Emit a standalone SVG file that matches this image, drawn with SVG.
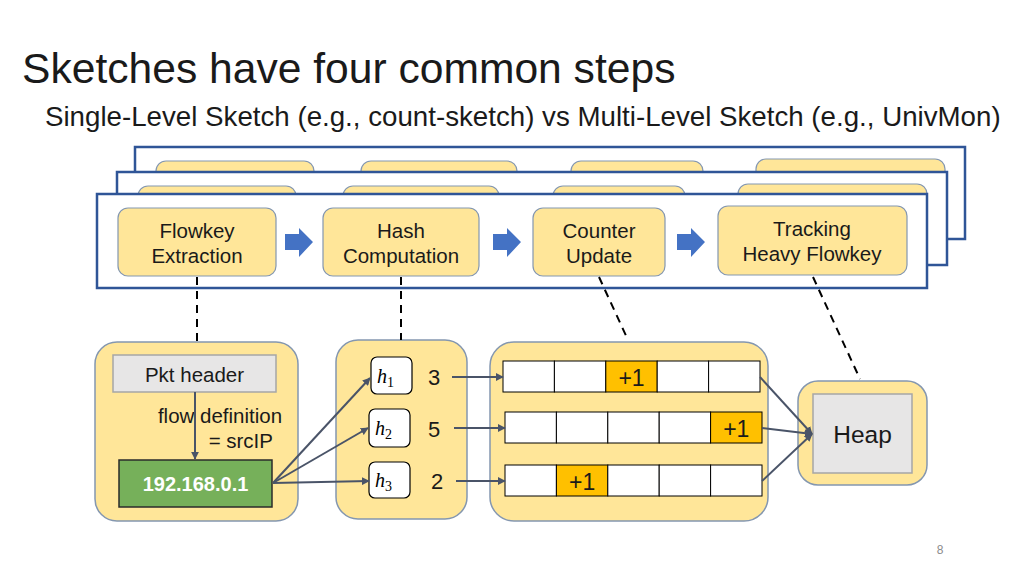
<svg xmlns="http://www.w3.org/2000/svg" width="1024" height="576" viewBox="0 0 1024 576">
<style>
.panel{fill:#ffffff;stroke:#2f5597;stroke-width:2.5}
.step{fill:#ffe699;stroke:#8497b0;stroke-width:1.2}
.cont{fill:#ffe699;stroke:#8497b0;stroke-width:1.5}
.t{font-family:"Liberation Sans",Arial,sans-serif;fill:#1a1a1a}
.gray{fill:#e7e6e6;stroke:#a6a6a6;stroke-width:1.5}
.cell{fill:#ffffff;stroke:#000000;stroke-width:1}
.hi{fill:#ffc000;stroke:#000000;stroke-width:1}
.hb{fill:#ffffff;stroke:#000000;stroke-width:1.2}
.dash{stroke:#000000;stroke-width:2;stroke-dasharray:8 6;fill:none}
.conn{stroke:#4a5468;stroke-width:2;fill:none}
.barrow{fill:#4472c4}
.math{font-family:"Liberation Serif","DejaVu Serif",serif;font-style:italic;fill:#000}
</style>
<defs>
<marker id="ah" viewBox="0 0 10 10" refX="9" refY="5" markerWidth="4" markerHeight="4" orient="auto" markerUnits="strokeWidth">
<path d="M0,0 L10,5 L0,10 z" fill="#4a5468"/>
</marker>
</defs>

<text class="t" x="22" y="83" font-size="42.6">Sketches have four common steps</text>
<text class="t" x="45" y="126" font-size="27.7">Single-Level Sketch (e.g., count-sketch) vs Multi-Level Sketch (e.g., UnivMon)</text>

<g id="panel-back" transform="translate(38,-47)">
<rect class="panel" x="97" y="194" width="830" height="92"/>
<rect class="step" x="118" y="208" width="158" height="68" rx="10"/>
<rect class="step" x="323" y="208" width="156" height="68" rx="10"/>
<rect class="step" x="533" y="208" width="132" height="68" rx="10"/>
<rect class="step" x="718" y="206" width="189" height="69" rx="10"/>
</g>
<g id="panel-middle" transform="translate(20,-22)">
<rect class="panel" x="97" y="194" width="830" height="93"/>
<rect class="step" x="118" y="208" width="158" height="68" rx="10"/>
<rect class="step" x="323" y="208" width="156" height="68" rx="10"/>
<rect class="step" x="533" y="208" width="132" height="68" rx="10"/>
<rect class="step" x="718" y="206" width="189" height="69" rx="10"/>
</g>
<g id="panel-front">
<rect class="panel" x="97" y="194" width="830" height="94"/>
</g>

<g id="step-flowkey">
<rect class="step" x="118" y="208" width="158" height="68" rx="10"/>
<text class="t" x="197" y="238" font-size="20.5" text-anchor="middle">Flowkey</text>
<text class="t" x="197" y="263" font-size="20.5" text-anchor="middle">Extraction</text>
</g>
<g id="step-hash">
<rect class="step" x="323" y="208" width="156" height="68" rx="10"/>
<text class="t" x="401" y="238" font-size="20.5" text-anchor="middle">Hash</text>
<text class="t" x="401" y="263" font-size="20.5" text-anchor="middle">Computation</text>
</g>
<g id="step-counter">
<rect class="step" x="533" y="208" width="132" height="68" rx="10"/>
<text class="t" x="599" y="238" font-size="20.5" text-anchor="middle">Counter</text>
<text class="t" x="599" y="263" font-size="20.5" text-anchor="middle">Update</text>
</g>
<g id="step-tracking">
<rect class="step" x="718" y="206" width="189" height="69" rx="10"/>
<text class="t" x="812" y="236" font-size="20.5" text-anchor="middle">Tracking</text>
<text class="t" x="812" y="261" font-size="20.5" text-anchor="middle">Heavy Flowkey</text>
</g>

<g id="block-arrows">
<path class="barrow" d="M285,234 H299 V228 L313,242 L299,257 V250 H285 Z"/>
<path class="barrow" d="M493,234 H507 V228 L521,242 L507,257 V250 H493 Z"/>
<path class="barrow" d="M677,234 H691 V228 L705,242 L691,257 V250 H677 Z"/>
</g>

<g id="flowkey-detail">
<rect class="cont" x="95" y="342" width="203" height="179" rx="22"/>
<rect class="gray" x="113" y="355" width="163" height="37"/>
<text class="t" x="194.5" y="382" font-size="20.5" text-anchor="middle">Pkt header</text>
<text class="t" x="220" y="423" font-size="20.5" text-anchor="middle">flow definition</text>
<text class="t" x="273" y="448" font-size="20.5" text-anchor="end">= srcIP</text>
<rect x="119" y="460" width="153" height="47" fill="#76b05a" stroke="#2b2b2b" stroke-width="1.5"/>
<text class="t" x="195.5" y="491" font-size="20" font-weight="bold" fill="#ffffff" style="fill:#ffffff" text-anchor="middle">192.168.0.1</text>
</g>

<g id="hash-detail">
<rect class="cont" x="336" y="340" width="131" height="179" rx="22"/>
<rect class="hb" x="371" y="357" width="41" height="37" rx="6"/>
<text class="math" x="377" y="383" font-size="20">h<tspan font-size="14" dy="4" font-style="normal">1</tspan></text>
<rect class="hb" x="369" y="409" width="41" height="38" rx="6"/>
<text class="math" x="375" y="435" font-size="20">h<tspan font-size="14" dy="4" font-style="normal">2</tspan></text>
<rect class="hb" x="369" y="462" width="41" height="36" rx="6"/>
<text class="math" x="375" y="487" font-size="20">h<tspan font-size="14" dy="4" font-style="normal">3</tspan></text>
<text class="t" x="434" y="385" font-size="22" text-anchor="middle">3</text>
<text class="t" x="434" y="437" font-size="22" text-anchor="middle">5</text>
<text class="t" x="437" y="489" font-size="22" text-anchor="middle">2</text>
</g>

<g id="counter-detail">
<rect class="cont" x="490" y="342" width="278" height="179" rx="24"/>
<rect class="cell" x="503" y="361" width="51.4" height="31"/>
<rect class="cell" x="554.4" y="361" width="51.4" height="31"/>
<rect class="hi" x="605.8" y="361" width="51.4" height="31"/>
<rect class="cell" x="657.2" y="361" width="51.4" height="31"/>
<rect class="cell" x="708.6" y="361" width="51.4" height="31"/>
<text class="t" x="631.5" y="386" font-size="23" text-anchor="middle">+1</text>
<rect class="cell" x="505" y="412" width="51.4" height="31"/>
<rect class="cell" x="556.4" y="412" width="51.4" height="31"/>
<rect class="cell" x="607.8" y="412" width="51.4" height="31"/>
<rect class="cell" x="659.2" y="412" width="51.4" height="31"/>
<rect class="hi" x="710.6" y="412" width="51.4" height="31"/>
<text class="t" x="736.3" y="437" font-size="23" text-anchor="middle">+1</text>
<rect class="cell" x="505" y="465" width="51.4" height="31"/>
<rect class="hi" x="556.4" y="465" width="51.4" height="31"/>
<rect class="cell" x="607.8" y="465" width="51.4" height="31"/>
<rect class="cell" x="659.2" y="465" width="51.4" height="31"/>
<rect class="cell" x="710.6" y="465" width="51.4" height="31"/>
<text class="t" x="582.1" y="490" font-size="23" text-anchor="middle">+1</text>
</g>

<g id="heap-detail">
<rect class="cont" x="798" y="381" width="129" height="104" rx="20"/>
<rect class="gray" x="813" y="394" width="99" height="79"/>
<text class="t" x="862.5" y="443" font-size="24.5" text-anchor="middle">Heap</text>
</g>

<g id="connectors">
<line class="dash" x1="197" y1="277" x2="197" y2="342"/>
<line class="dash" x1="401" y1="277" x2="401" y2="340"/>
<line class="dash" x1="599" y1="277" x2="628" y2="340"/>
<line class="dash" x1="813" y1="277" x2="860" y2="379"/>
<line class="conn" x1="195" y1="392" x2="195" y2="459" marker-end="url(#ah)"/>
<line class="conn" x1="273" y1="483" x2="370" y2="378" marker-end="url(#ah)"/>
<line class="conn" x1="273" y1="483" x2="368" y2="428" marker-end="url(#ah)"/>
<line class="conn" x1="273" y1="483" x2="369" y2="481" marker-end="url(#ah)"/>
<line class="conn" x1="452" y1="377" x2="503" y2="377" marker-end="url(#ah)"/>
<line class="conn" x1="454" y1="428" x2="505" y2="428" marker-end="url(#ah)"/>
<line class="conn" x1="456" y1="481" x2="505" y2="481" marker-end="url(#ah)"/>
<line class="conn" x1="760" y1="377" x2="812" y2="434" marker-end="url(#ah)"/>
<line class="conn" x1="762" y1="428" x2="812" y2="434" marker-end="url(#ah)"/>
<line class="conn" x1="762" y1="481" x2="812" y2="434" marker-end="url(#ah)"/>
</g>

<text x="940" y="554" font-family="Liberation Sans,Arial,sans-serif" font-size="12" fill="#8c8c8c" text-anchor="middle">8</text>
</svg>
